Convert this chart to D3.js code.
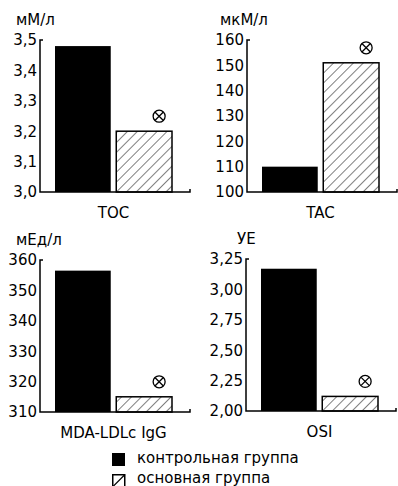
<!DOCTYPE html>
<html>
<head>
<meta charset="utf-8">
<script src="https://cdn.jsdelivr.net/npm/d3@7"></script>
<style>
  body { margin: 0; background: #fff; }
  svg text { font-family: "DejaVu Sans", sans-serif; fill: #000; }
</style>
</head>
<body>
<svg width="398" height="486"></svg>
<script>
const categories = ['TOC', 'TAC', 'MDA-LDLc IgG', 'OSI'];
const units = ['мМ/л', 'мкМ/л', 'мЕд/л', 'УЕ'];
const controlValues = [3.48, 110, 356.5, 3.17];
const mainValues = [3.2, 151, 315, 2.12];
const yDomains = [[3.0, 3.5], [100, 160], [310, 360], [2.0, 3.25]];
const tickValues = [
    [3.0, 3.1, 3.2, 3.3, 3.4, 3.5],
    [100, 110, 120, 130, 140, 150, 160],
    [310, 320, 330, 340, 350, 360],
    [2.0, 2.25, 2.5, 2.75, 3.0, 3.25]
];
const tickLabels = [
    ['3,0', '3,1', '3,2', '3,3', '3,4', '3,5'],
    ['100', '110', '120', '130', '140', '150', '160'],
    ['310', '320', '330', '340', '350', '360'],
    ['2,00', '2,25', '2,50', '2,75', '3,00', '3,25']
];
const groups = ['контрольная группа', 'основная группа'];

const svg = d3.select('svg');

const defs = svg.append('defs');
defs.append('pattern')
    .attr('id', 'hatch')
    .attr('patternUnits', 'userSpaceOnUse')
    .attr('width', 7)
    .attr('height', 7)
    .attr('patternTransform', 'rotate(45)')
    .append('line')
    .attr('x1', 0).attr('y1', 0)
    .attr('x2', 0).attr('y2', 7)
    .attr('stroke', '#000')
    .attr('stroke-width', 1);

// panel positions
const panelX = [40, 247, 40, 246];
const panelY = [40, 40, 260, 259];
const unitX = [-24, -27, -24, -9];
const panelW = 150;
const panelH = 152;

categories.forEach((cat, i) => {
    const g = svg.append('g')
        .attr('transform', `translate(${panelX[i]}, ${panelY[i]})`);

    const yScale = d3.scaleLinear()
        .domain(yDomains[i])
        .range([panelH, 0]);

    const xScale = d3.scaleBand()
        .domain(['control', 'main'])
        .range([15, 132])
        .paddingInner(0.09);

    g.append('rect')
        .attr('x', xScale('control'))
        .attr('y', yScale(controlValues[i]))
        .attr('width', xScale.bandwidth())
        .attr('height', panelH - yScale(controlValues[i]))
        .attr('fill', '#000');

    g.append('rect')
        .attr('x', xScale('main'))
        .attr('y', yScale(mainValues[i]))
        .attr('width', xScale.bandwidth())
        .attr('height', panelH - yScale(mainValues[i]))
        .attr('fill', 'url(#hatch)')
        .attr('stroke', '#000')
        .attr('stroke-width', 1.5);

    // significance marker
    const mx = xScale('main') + xScale.bandwidth() / 2 + 15;
    const my = yScale(mainValues[i]) - 15;
    const marker = g.append('g')
        .attr('transform', `translate(${mx}, ${my})`)
        .attr('stroke', '#000')
        .attr('stroke-width', 1.3)
        .attr('fill', 'none');
    marker.append('circle').attr('r', 6);
    marker.append('path').attr('d', 'M-4,-4L4,4M-4,4L4,-4');

    const yAxis = d3.axisLeft(yScale)
        .tickValues(tickValues[i])
        .tickFormat((d, k) => tickLabels[i][k])
        .tickSize(0)
        .tickPadding(3);

    const ya = g.append('g').call(yAxis);
    ya.select('.domain').remove();
    ya.selectAll('text').style('font-size', '15px');

    // axis lines with small hooks
    g.append('path')
        .attr('d', `M3,0H0V${panelH}H${panelW}V${panelH - 3}`)
        .attr('fill', 'none')
        .attr('stroke', '#000')
        .attr('stroke-width', 1.5);

    g.append('text')
        .attr('x', unitX[i])
        .attr('y', -15)
        .style('font-size', '15px')
        .text(units[i]);

    g.append('text')
        .attr('x', xScale.range()[0] + (xScale.range()[1] - xScale.range()[0]) / 2)
        .attr('y', panelH + 26)
        .attr('text-anchor', 'middle')
        .style('font-size', '15px')
        .text(cat);
});

// legend
const legend = svg.append('g').attr('transform', 'translate(112, 453)');
legend.append('rect')
    .attr('x', 0).attr('y', 0)
    .attr('width', 13).attr('height', 13)
    .attr('fill', '#000');
legend.append('rect')
    .attr('x', 0.75).attr('y', 21.75)
    .attr('width', 12).attr('height', 12)
    .attr('fill', '#fff')
    .attr('stroke', '#000')
    .attr('stroke-width', 1.5);
legend.append('line')
    .attr('x1', 0.75).attr('y1', 33.75)
    .attr('x2', 12.75).attr('y2', 21.75)
    .attr('stroke', '#000')
    .attr('stroke-width', 1.2);
legend.selectAll('text.lg')
    .data(groups)
    .enter()
    .append('text')
    .attr('class', 'lg')
    .attr('x', 25)
    .attr('y', (d, k) => 10 + k * 20)
    .style('font-size', '15px')
    .text((d) => d);
</script>
</body>
</html>
